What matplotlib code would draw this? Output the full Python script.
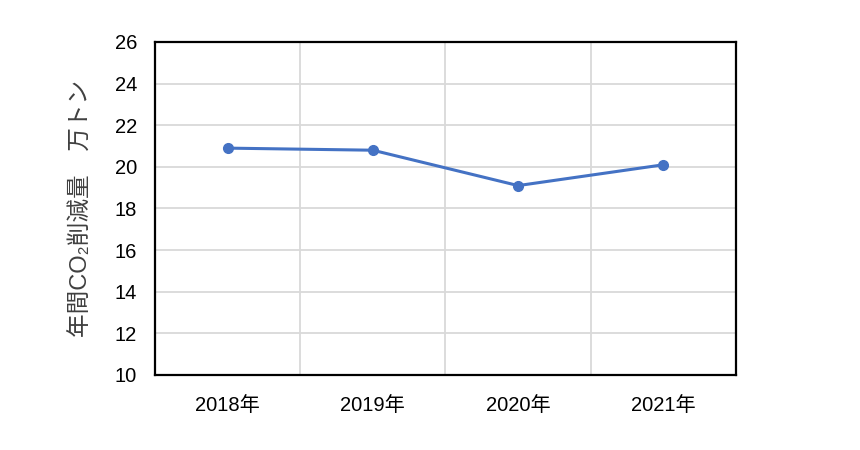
import matplotlib
matplotlib.use('Agg')
import matplotlib.pyplot as plt

# data
years = ['2018年', '2019年', '2020年', '2021年']
co2_cut = [20.9, 20.8, 19.1, 20.1]
yticks = [10, 12, 14, 16, 18, 20, 22, 24, 26]

plt.rcParams['font.family'] = ['Liberation Sans', 'Noto Sans CJK JP', 'DejaVu Sans']

fig = plt.figure(figsize=(8.6, 4.5), dpi=100)
ax = fig.add_axes([0.1802, 0.1667, 0.6756, 0.74])

x = list(range(len(years)))
ax.plot(x, co2_cut, color='#4472C4', linewidth=2.2, marker='o', markersize=7, zorder=3)

ax.set_xlim(-0.5, len(years) - 0.5)
ax.set_ylim(yticks[0], yticks[-1])
ax.set_yticks(yticks)
ax.set_xticks(x)
ax.set_xticklabels(years)

# category separators and horizontal grid
ax.set_xticks([i + 0.5 for i in range(len(years) - 1)], minor=True)
ax.grid(axis='y', which='major', color='#D9D9D9', linewidth=1.3)
ax.grid(axis='x', which='minor', color='#D9D9D9', linewidth=1.3)
ax.set_axisbelow(True)

ax.tick_params(axis='both', which='both', length=0, labelsize=14.5, colors='black')
ax.tick_params(axis='y', pad=13)
ax.tick_params(axis='x', pad=15)

for s in ax.spines.values():
    s.set_linewidth(1.6)
    s.set_color('black')

ax.set_ylabel('年間CO₂削減量\u3000万トン', fontsize=17, color='#404040', labelpad=16)

fig.savefig('out.png', dpi=100)
